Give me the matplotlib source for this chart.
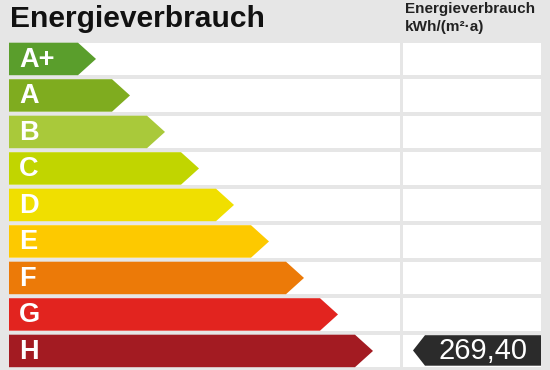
import matplotlib
matplotlib.use("Agg")
import matplotlib.pyplot as plt
from matplotlib.patches import Rectangle, Polygon

# ---- data ----
classes = ["A+", "A", "B", "C", "D", "E", "F", "G", "H"]
colors = ["#5a9e2c", "#7fac1f", "#a9c93a", "#c1d500", "#f0df00",
          "#fdc900", "#ec7a08", "#e2241f", "#a31b22"]
bar_lengths = [87, 121, 156, 190, 225, 260, 295, 329, 364]  # arrow length per class
value = 269.40
value_class = "H"
title = "Energieverbrauch"
col_header = ["Energieverbrauch", "kWh/(m²·a)"]

plt.rcParams['font.family'] = ['Liberation Sans', 'DejaVu Sans']

W, H = 550, 370
fig = plt.figure(figsize=(5.5, 3.7), dpi=100)
fig.patch.set_facecolor("#e6e6e6")
ax = fig.add_axes([0, 0, 1, 1])
ax.set_xlim(0, W)
ax.set_ylim(H, 0)
ax.axis("off")
ax.set_facecolor("#e6e6e6")

x0 = 9
cell1_end = 400
cell2_start = 403
cell2_end = 541
top0 = 42.7
pitch = 36.5
rh = 32.5
tip = 18

ax.text(x0 + 0.5, 19, title, fontsize=21.6, fontweight="bold", color="#111111",
        va="center", ha="left")
ax.text(405, 9, col_header[0], fontsize=11, fontweight="bold", color="#222222",
        va="center", ha="left")
ax.text(405, 27, col_header[1], fontsize=11, fontweight="bold", color="#222222",
        va="center", ha="left")

for i, (c, col, L) in enumerate(zip(classes, colors, bar_lengths)):
    t = top0 + i * pitch
    b = t + rh
    m = (t + b) / 2
    ax.add_patch(Rectangle((x0, t), cell1_end - x0, rh, facecolor="white", edgecolor="none"))
    ax.add_patch(Rectangle((cell2_start, t), cell2_end - cell2_start, rh, facecolor="white", edgecolor="none"))
    xe = x0 + L
    ax.add_patch(Polygon([(x0, t), (xe - tip, t), (xe, m), (xe - tip, b), (x0, b)],
                         closed=True, facecolor=col, edgecolor="none"))
    ax.text(x0 + 10, m + 1, c, fontsize=19.5, fontweight="bold", color="white",
            va="center", ha="left")
    if c == value_class:
        vt, vb = t + 0.5, b - 1.5
        vm = (vt + vb) / 2
        vx = 413
        ax.add_patch(Polygon([(vx, vm), (vx + 12, vt), (cell2_end, vt), (cell2_end, vb), (vx + 12, vb)],
                             closed=True, facecolor="#2b2b2b", edgecolor="none"))
        ax.text(483, vm + 1, f"{value:.2f}".replace(".", ","), fontsize=21, color="white",
                va="center", ha="center")

fig.savefig("out.png", dpi=100, facecolor=fig.get_facecolor())
